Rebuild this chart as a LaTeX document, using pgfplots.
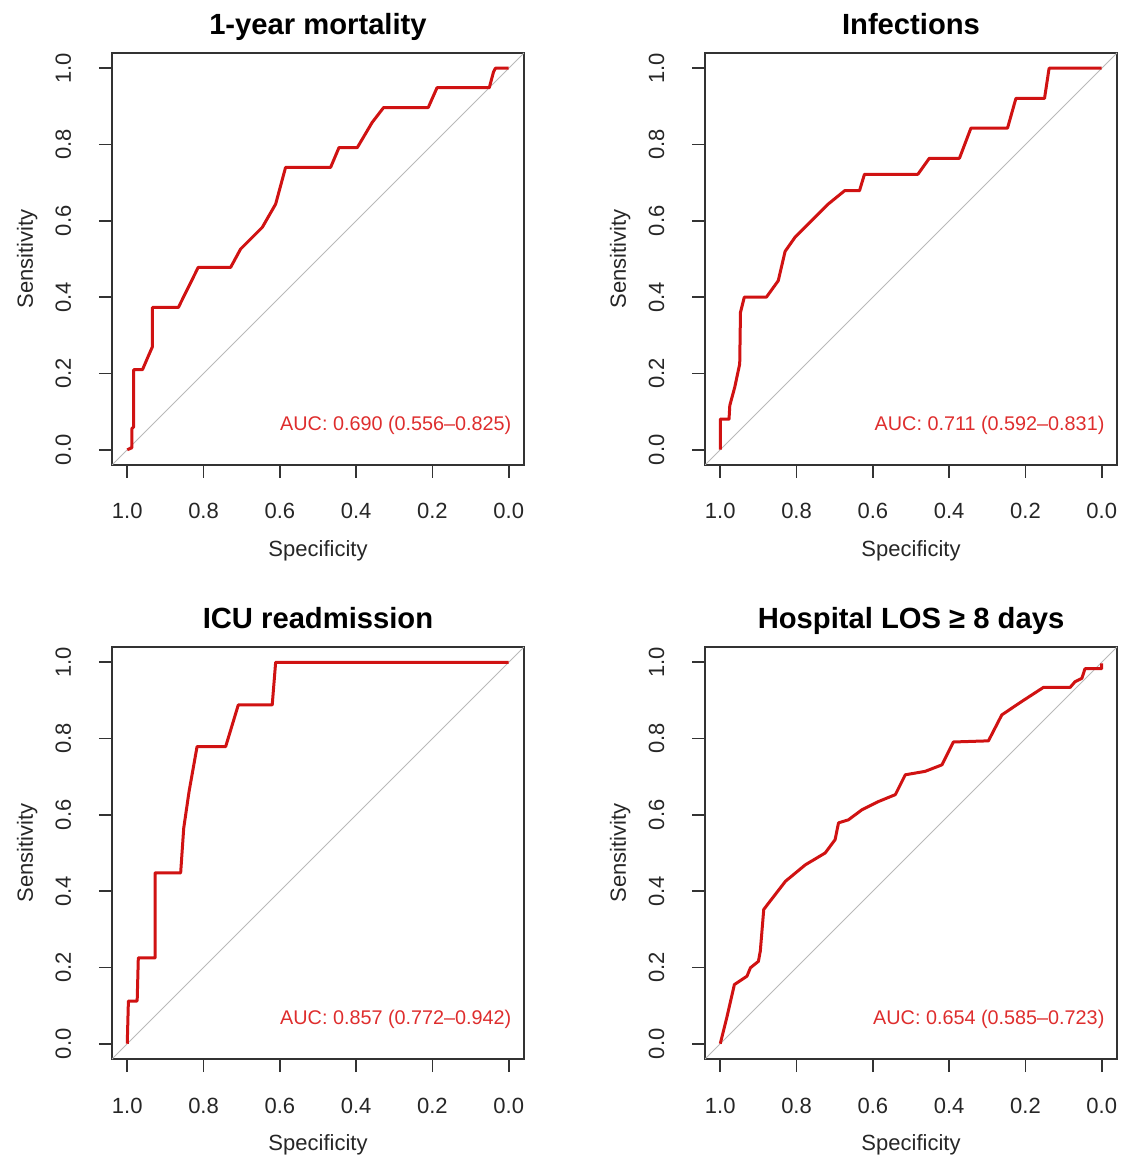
\documentclass[border=0pt]{standalone}
\usepackage{fontspec}
\setmainfont{Liberation Sans}
\usepackage{pgfplots}
\pgfplotsset{compat=1.18}

\definecolor{rocred}{RGB}{208,18,18}
\definecolor{aucred}{RGB}{222,45,45}

% one R/pROC style panel, 1 px of the reference = 0.5pt
\pgfplotsset{
  rocax/.style={
    scale only axis, width=206pt, height=206pt, anchor=south west,
    x dir=reverse, xmin=-0.04, xmax=1.04, ymin=-0.04, ymax=1.04,
    xtick={0,0.2,0.4,0.6,0.8,1}, ytick={0,0.2,0.4,0.6,0.8,1},
    xtick pos=left, ytick pos=left, tick align=outside,
    major tick length=6.5pt,
    axis line style={black!80, line width=0.8pt},
    tick style={black!80, line width=0.8pt},
    /pgf/number format/.cd, fixed, fixed zerofill, precision=1, assume math mode=true,
    /pgfplots/.cd,
    ticklabel style={font=\fontsize{11}{13}\selectfont, text=black!85},
    xticklabel style={anchor=base}, xticklabel shift=20.5pt,
    yticklabel style={rotate=90, anchor=base}, yticklabel shift=14pt,
    xlabel={Specificity}, ylabel={Sensitivity},
    label style={font=\fontsize{11}{13}\selectfont, text=black!85},
    xlabel style={at={(axis description cs:0.5,-0.221)}, anchor=base},
    ylabel style={at={(axis description cs:-0.192,0.5)}, anchor=base},
    every axis title shift=0pt,
    title style={at={(axis description cs:0.5,1.044)}, anchor=base,
                 font=\fontsize{14.6}{16}\selectfont\bfseries},
    clip=true,
  },
  diag/.style={gray!55, line width=0.5pt, forget plot},
  roc/.style={rocred, line width=1.5pt, line join=round},
}
\tikzset{auc/.style={anchor=base east, inner sep=0pt, text=aucred, font=\fontsize{9.9}{11}\selectfont}}

\begin{document}
\begin{tikzpicture}
\path[use as bounding box] (0,0) rectangle (563pt,583.5pt);

\begin{axis}[rocax, at={(56pt,351pt)}, title={1-year mortality}]
\addplot[diag] coordinates {(1.04,-0.04) (-0.04,1.04)};
\addplot[roc] coordinates {
  (1.0,0.0)(0.988,0.005)(0.988,0.055)(0.983,0.06)(0.983,0.21)(0.96,0.21)
  (0.945,0.245)(0.934,0.27)(0.934,0.373)(0.866,0.373)(0.814,0.478)(0.729,0.478)
  (0.703,0.526)(0.646,0.583)(0.611,0.644)(0.585,0.74)(0.467,0.74)(0.445,0.792)
  (0.397,0.792)(0.358,0.858)(0.328,0.897)(0.211,0.897)(0.188,0.949)(0.051,0.949)
  (0.04,0.99)(0.035,1.0)(0.0,1.0)};
\node[auc] at (axis cs:-0.008,0.05) {AUC: 0.690 (0.556--0.825)};
\end{axis}

\begin{axis}[rocax, at={(352.5pt,351pt)}, title={Infections}]
\addplot[diag] coordinates {(1.04,-0.04) (-0.04,1.04)};
\addplot[roc] coordinates {
  (1.0,0.0)(1.0,0.08)(0.977,0.08)(0.975,0.116)(0.962,0.164)(0.949,0.225)
  (0.947,0.36)(0.937,0.40)(0.879,0.40)(0.848,0.443)(0.83,0.52)(0.804,0.557)
  (0.769,0.592)(0.717,0.644)(0.674,0.679)(0.635,0.679)(0.622,0.722)(0.482,0.722)
  (0.452,0.764)(0.373,0.764)(0.343,0.843)(0.247,0.843)(0.225,0.921)(0.15,0.921)
  (0.138,1.0)(0.0,1.0)};
\node[auc] at (axis cs:-0.008,0.05) {AUC: 0.711 (0.592--0.831)};
\end{axis}

\begin{axis}[rocax, at={(56pt,54pt)}, title={ICU readmission}]
\addplot[diag] coordinates {(1.04,-0.04) (-0.04,1.04)};
\addplot[roc] coordinates {
  (1.0,0.0)(0.997,0.112)(0.974,0.112)(0.971,0.225)(0.927,0.225)(0.927,0.448)
  (0.86,0.448)(0.852,0.565)(0.838,0.661)(0.817,0.779)(0.742,0.779)(0.709,0.888)
  (0.62,0.888)(0.611,1.0)(0.0,1.0)};
\node[auc] at (axis cs:-0.008,0.05) {AUC: 0.857 (0.772--0.942)};
\end{axis}

\begin{axis}[rocax, at={(352.5pt,54pt)}, title={Hospital LOS ≥ 8 days}]
\addplot[diag] coordinates {(1.04,-0.04) (-0.04,1.04)};
\addplot[roc] coordinates {
  (1.0,0.0)(0.983,0.068)(0.963,0.155)(0.93,0.177)(0.921,0.199)(0.9,0.216)
  (0.895,0.243)(0.886,0.352)(0.873,0.369)(0.829,0.426)(0.777,0.469)(0.725,0.5)
  (0.699,0.535)(0.69,0.579)(0.664,0.587)(0.629,0.613)(0.585,0.635)(0.541,0.653)
  (0.515,0.705)(0.463,0.714)(0.419,0.731)(0.389,0.791)(0.297,0.794)(0.262,0.862)
  (0.21,0.897)(0.153,0.934)(0.083,0.934)(0.07,0.949)(0.052,0.958)(0.044,0.983)
  (0.0,0.983)(0.0,0.997)};
\node[auc] at (axis cs:-0.008,0.05) {AUC: 0.654 (0.585--0.723)};
\end{axis}
\end{tikzpicture}
\end{document}
